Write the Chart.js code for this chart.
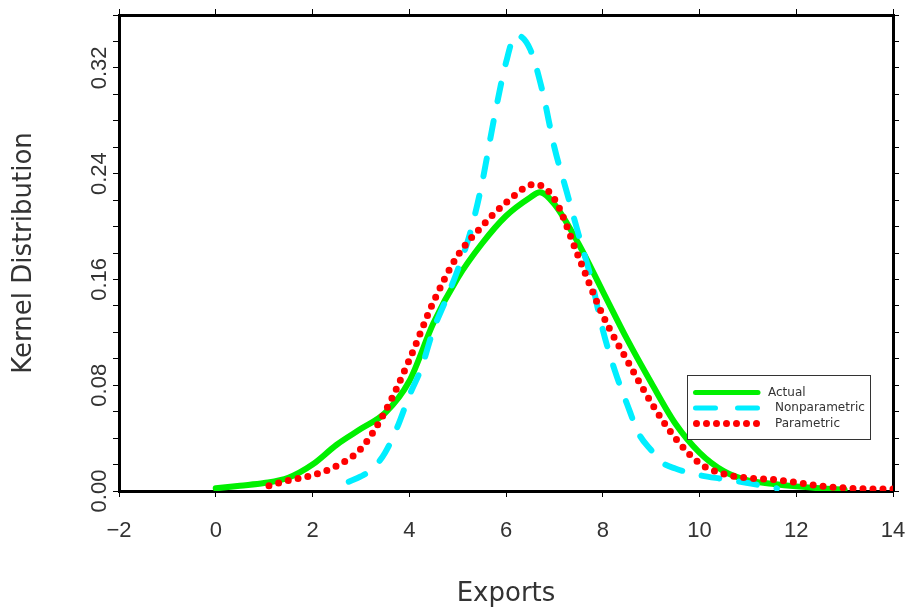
<!DOCTYPE html>
<html>
<head>
<meta charset="utf-8">
<script src="https://cdn.jsdelivr.net/npm/chart.js@4.4.0/dist/chart.umd.min.js"></script>
<style>
  html, body { margin: 0; padding: 0; background: #fff; }
  #wrap { width: 913px; height: 608px; }
</style>
</head>
<body>
<div id="wrap"><canvas id="kernelChart"></canvas></div>
<script>
// Values
const actualX = [0, 0.5, 1, 1.5, 2, 2.5, 3, 3.5, 4, 4.5, 5, 5.5, 6, 6.5, 6.7, 7, 7.5, 8, 8.5, 9, 9.5, 10, 10.5, 11, 11.5, 12, 12.5, 13];
const actualY = [0.002, 0.004, 0.006, 0.010, 0.020, 0.035, 0.047, 0.059, 0.083, 0.127, 0.161, 0.187, 0.208, 0.222, 0.226, 0.217, 0.187, 0.151, 0.115, 0.082, 0.051, 0.029, 0.015, 0.008, 0.0055, 0.0035, 0.002, 0.001];

const nonparX = [2.75, 3, 3.25, 3.5, 3.75, 4, 4.25, 4.5, 4.75, 5, 5.25, 5.5, 5.75, 6, 6.2, 6.5, 6.75, 7, 7.25, 7.5, 7.75, 8, 8.25, 8.5, 8.75, 9, 9.25, 9.5, 10, 10.5, 11, 11.6];
const nonparY = [0.007, 0.011, 0.017, 0.029, 0.048, 0.072, 0.093, 0.122, 0.144, 0.167, 0.194, 0.232, 0.281, 0.324, 0.345, 0.334, 0.303, 0.260, 0.227, 0.194, 0.162, 0.122, 0.091, 0.066, 0.043, 0.031, 0.021, 0.017, 0.012, 0.009, 0.006, 0.002];

const paramX = [1.1, 1.5, 2, 2.5, 3, 3.5, 4, 4.5, 5, 5.5, 6, 6.6, 7, 7.5, 8, 8.5, 9, 9.5, 10, 10.5, 11, 11.5, 12, 12.5, 13, 13.5, 14];
const paramY = [0.004, 0.008, 0.012, 0.019, 0.032, 0.060, 0.099, 0.143, 0.178, 0.200, 0.218, 0.232, 0.221, 0.177, 0.133, 0.099, 0.067, 0.040, 0.021, 0.013, 0.0098, 0.0088, 0.0065, 0.0038, 0.0023, 0.0016, 0.0015];

const seriesNames = ['Actual', 'Nonparametric', 'Parametric'];
const xRange = [-2, 14];
const xStep = 2;
const yRange = [0, 0.36];
const yStep = 0.02;
const yLabelStep = 0.08;

// zip x/y lists into point objects
function pts(xs, ys) {
    return xs.map((x, i) => ({ x: x, y: ys[i] }));
}

const tickFont = { family: "'Liberation Sans', sans-serif", size: 22 };
const titleFont = { family: "'DejaVu Sans', sans-serif", size: 26 };
const ink = '#333';

// frame + tick marks shared by the four axes
function frameAxis(extra) {
    return Object.assign({
        border: { display: true, color: '#000', width: 3 },
        grid: { drawOnChartArea: false, drawTicks: true, tickLength: 6, color: '#000', lineWidth: 1 }
    }, extra);
}

// fixed axis sizes so the plot frame sits where it does in the picture
function fixSize(w, h) {
    return s => {
        if (w !== null) s.width = w;
        if (h !== null) s.height = h;
        s.paddingLeft = 0; s.paddingRight = 0;
        s.paddingTop = 0; s.paddingBottom = 0;
    };
}

// Legend box in the lower right of the plot
const boxLegend = {
    id: 'boxLegend',
    afterDraw(chart) {
        const ctx = chart.ctx;
        const ds = chart.data.datasets;
        ctx.save();
        ctx.fillStyle = '#fff';
        ctx.fillRect(687, 375, 183, 64);
        ctx.strokeStyle = '#333';
        ctx.lineWidth = 1;
        ctx.strokeRect(687.5, 375.5, 183, 64);

        const rows = [392.5, 408, 423.5];
        const textX = [768, 775, 775];
        ctx.lineCap = 'round';
        ds.forEach((d, i) => {
            ctx.beginPath();
            ctx.strokeStyle = d.borderColor;
            ctx.lineWidth = i === 2 ? 7 : 5;
            if (i === 0) ctx.setLineDash([]);
            if (i === 1) ctx.setLineDash([20, 22]);
            if (i === 2) ctx.setLineDash([0, 10]);
            ctx.moveTo(i === 2 ? 696.5 : 695.5, rows[i]);
            ctx.lineTo(i === 2 ? 757 : 758, rows[i]);
            ctx.stroke();
        });
        ctx.setLineDash([]);
        ctx.fillStyle = ink;
        ctx.font = "12px 'DejaVu Sans', sans-serif";
        ctx.textBaseline = 'middle';
        ds.forEach((d, i) => ctx.fillText(d.label, textX[i], rows[i]));
        ctx.restore();
    }
};

new Chart(document.getElementById('kernelChart'), {
    type: 'line',
    data: {
        datasets: [
            {
                label: seriesNames[0],
                data: pts(actualX, actualY),
                borderColor: '#00f000',
                borderWidth: 6,
                borderCapStyle: 'round',
                order: 3
            },
            {
                label: seriesNames[1],
                data: pts(nonparX, nonparY),
                borderColor: '#00eeff',
                borderWidth: 6,
                borderDash: [18, 20],
                borderCapStyle: 'round',
                order: 2
            },
            {
                label: seriesNames[2],
                data: pts(paramX, paramY),
                borderColor: '#ff0000',
                borderWidth: 7,
                borderDash: [0, 10],
                borderCapStyle: 'round',
                order: 1
            }
        ]
    },
    options: {
        responsive: true,
        maintainAspectRatio: false,
        animation: false,
        layout: { padding: 0 },
        elements: {
            point: { radius: 0 },
            line: { cubicInterpolationMode: 'monotone', fill: false }
        },
        plugins: {
            legend: { display: false },
            tooltip: { enabled: false }
        },
        scales: {
            x: frameAxis({
                type: 'linear',
                position: 'bottom',
                min: xRange[0], max: xRange[1],
                afterFit: fixSize(null, 117),
                ticks: {
                    stepSize: xStep,
                    color: ink,
                    font: tickFont,
                    padding: 21,
                    maxRotation: 0,
                    callback: v => (v < 0 ? '\u2212' + Math.abs(v) : String(v))
                },
                title: { display: true, text: 'Exports', color: ink, font: titleFont, padding: { top: 0, bottom: -2 } }
            }),
            xTop: frameAxis({
                type: 'linear',
                position: 'top',
                min: xRange[0], max: xRange[1],
                afterFit: fixSize(null, 15),
                ticks: { stepSize: xStep, display: false }
            }),
            y: frameAxis({
                type: 'linear',
                position: 'left',
                min: yRange[0], max: yRange[1],
                afterFit: fixSize(119, null),
                ticks: {
                    stepSize: yStep,
                    color: ink,
                    font: tickFont,
                    minRotation: 90,
                    maxRotation: 90,
                    crossAlign: 'center',
                    padding: -8,
                    autoSkip: false,
                    callback: v => {
                        const k = v / yLabelStep;
                        return Math.abs(k - Math.round(k)) < 1e-6 ? v.toFixed(2) : '';
                    }
                },
                title: { display: true, text: 'Kernel Distribution', color: ink, font: titleFont, padding: { top: 9, bottom: 0 } }
            }),
            yRight: frameAxis({
                type: 'linear',
                position: 'right',
                min: yRange[0], max: yRange[1],
                afterFit: fixSize(20, null),
                ticks: { stepSize: yStep, display: false, autoSkip: false }
            })
        }
    },
    plugins: [boxLegend]
});
</script>
</body>
</html>
